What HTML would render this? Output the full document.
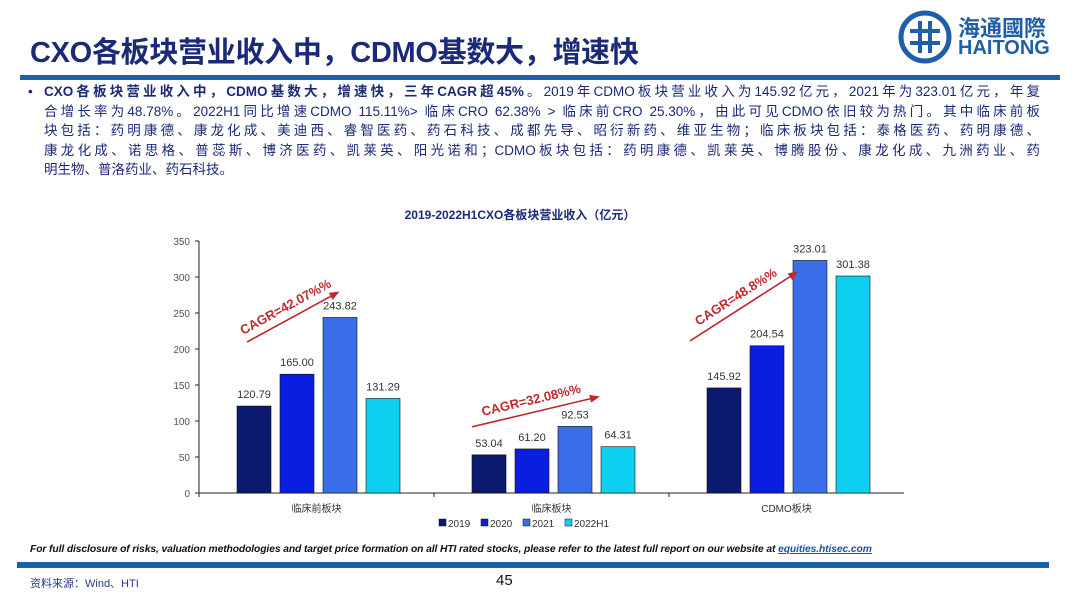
<!DOCTYPE html>
<html><head><meta charset="utf-8"><style>
body{margin:0;width:1080px;height:607px;background:#fff;position:relative;overflow:hidden;font-family:"Liberation Sans","Noto Sans CJK SC",sans-serif}
.abs{position:absolute}
.ln{text-align:justify;text-align-last:justify;white-space:nowrap;height:19.6px}
</style></head><body>
<div class="abs" style="left:30px;top:29px;font-size:29px;font-weight:bold;color:#1b2a78;letter-spacing:-0.3px">CXO各板块营业收入中，CDMO基数大，增速快</div>
<div class="abs" style="left:898px;top:9px;width:160px;height:56px">
<svg width="56" height="56" style="position:absolute;left:0;top:0"><circle cx="27" cy="28" r="24" fill="none" stroke="#1f5fa8" stroke-width="5"/><path d="M12 22h30M12 34h30M22 12v32M32 12v32" stroke="#1f5fa8" stroke-width="4" fill="none"/></svg>
<div class="abs" style="left:60px;top:2px;font-size:22px;color:#1f5fa8;font-weight:bold">海通國際</div>
<div class="abs" style="left:60px;top:28px;font-size:20px;color:#1f5fa8;font-weight:bold">HAITONG</div>
</div>
<div class="abs" style="left:20px;top:75px;width:1040px;height:5px;background:#1f5fa8"></div>
<div class="abs" style="left:28px;top:82px;width:1012px;font-size:13.5px;line-height:19.6px;color:#1b2a78">
<span style="position:absolute;left:0;top:0">•</span>
<div style="margin-left:16px">
<div class="ln"><b>CXO各板块营业收入中，CDMO基数大，增速快，三年CAGR超45%</b>。2019年CDMO板块营业收入为145.92亿元，2021年为323.01亿元，年复</div>
<div class="ln">合增长率为48.78%。2022H1同比增速CDMO 115.11%&gt; 临床CRO 62.38% &gt; 临床前CRO 25.30%，由此可见CDMO依旧较为热门。其中临床前板</div>
<div class="ln">块包括：药明康德、康龙化成、美迪西、睿智医药、药石科技、成都先导、昭衍新药、维亚生物；临床板块包括：泰格医药、药明康德、</div>
<div class="ln">康龙化成、诺思格、普蕊斯、博济医药、凯莱英、阳光诺和；CDMO板块包括：药明康德、凯莱英、博腾股份、康龙化成、九洲药业、药</div>
<div>明生物、普洛药业、药石科技。</div>
</div>
</div>
<svg class="abs" style="left:0;top:0" width="1080" height="607" id="chart"></svg>
<div class="abs" style="left:30px;top:544px;font-size:10.3px;font-style:italic;font-weight:bold;color:#111;letter-spacing:-0.1px">For full disclosure of risks, valuation methodologies and target price formation on all HTI rated stocks, please refer to the latest full report on our website at <span style="color:#1f4fa8;text-decoration:underline">equities.htisec.com</span></div>
<div class="abs" style="left:17px;top:562px;width:1032px;height:6px;background:#1f5fa8"></div>
<div class="abs" style="left:30px;top:575px;font-size:11px;color:#2a3a8a">资料来源：Wind、HTI</div>
<div class="abs" style="left:496px;top:572px;font-size:15px;color:#111">45</div>
<script>
const categories=["临床前板块","临床板块","CDMO板块"];
const seriesNames=["2019","2020","2021","2022H1"];
const s2019=[120.79,53.04,145.92];
const s2020=[165.00,61.20,204.54];
const s2021=[243.82,92.53,323.01];
const s2022H1=[131.29,64.31,301.38];
const yTicks=[0,50,100,150,200,250,300,350];
const cagrLabels=["CAGR=42.07%%","CAGR=32.08%%","CAGR=48.8%%"];
const series=[s2019,s2020,s2021,s2022H1];
const colors=["#0a1a6e","#0a1ee0","#3a6ee8","#0fcff0"];
// arrow placement offsets (styling): [startDx, startDyFrom2019Top, endDx, endDyFrom2021Top]
const arrowOffsets=[[48,-64,137,-24],[38,-28,162,-29],[21,-47,126,13]];
const NS="http://www.w3.org/2000/svg";
const svg=document.getElementById('chart');
const X0=199,GW=235,Y0=493,PY=252/350;
const y=v=>Y0-v*PY;
const gx=i=>X0+i*GW;
function el(t,a,txt){const e=document.createElementNS(NS,t);for(const k in a)e.setAttribute(k,a[k]);if(txt!=null)e.textContent=txt;svg.appendChild(e);return e;}
let t=el('text',{x:520,y:219,'text-anchor':'middle','font-size':12,'font-weight':'bold',fill:'#1b2a78'},'2019-2022H1CXO各板块营业收入（亿元）');


yTicks.forEach(v=>{
 let tl=el('text',{x:190,y:y(v)+4,'text-anchor':'end','font-size':10,fill:'#555'},v);
 
 
 el('line',{x1:195,x2:199,y1:y(v),y2:y(v),stroke:'#222'});
});
let ax=el('line',{x1:199,x2:199,y1:y(350),y2:Y0,stroke:'#222'});


let bx=el('line',{x1:199,x2:X0+3*GW,y1:Y0,y2:Y0,stroke:'#222'});


categories.forEach((c,i)=>{
 el('line',{x1:gx(i),x2:gx(i),y1:Y0,y2:Y0+4,stroke:'#222'});
 let cl=el('text',{x:gx(i)+GW/2,y:512,'text-anchor':'middle','font-size':10,fill:'#333'},c);
 
 
 series.forEach((s,j)=>{
  const bxp=gx(i)+38+j*43,v=s[i];
  let r=el('rect',{x:bxp,y:y(v),width:34,height:Y0-y(v),fill:colors[j],stroke:'#111','stroke-width':0.6});
  
  
  let vl=el('text',{x:bxp+17,y:y(v)-8,'text-anchor':'middle','font-size':11,fill:'#333'},v.toFixed(2));
  
  
 });
 const o=arrowOffsets[i];
 const ax1=gx(i)+o[0],ay1=y(s2019[i])+o[1];
 const ax2=gx(i)+o[2],ay2=y(s2021[i])+o[3];
 let ar=el('line',{x1:ax1,y1:ay1,x2:ax2,y2:ay2,stroke:'#c0282d','stroke-width':1.6});
 
 
 const ang=Math.atan2(ay2-ay1,ax2-ax1);
 const p=[[ax2+4*Math.cos(ang),ay2+4*Math.sin(ang)],[ax2-6*Math.cos(ang)-4*Math.sin(ang),ay2-6*Math.sin(ang)+4*Math.cos(ang)],[ax2-6*Math.cos(ang)+4*Math.sin(ang),ay2-6*Math.sin(ang)-4*Math.cos(ang)]];
 el('polygon',{points:p.map(q=>q.join(',')).join(' '),fill:'#c0282d'});
 const mx=(ax1+ax2)/2+8*Math.sin(ang),my=(ay1+ay2)/2-8*Math.cos(ang),deg=ang*180/Math.PI;
 let cg=el('text',{x:mx,y:my,'text-anchor':'middle','font-size':13,'font-weight':'bold',fill:'#c0282d',transform:`rotate(${deg} ${mx} ${my})`},cagrLabels[i]);
 
 
});
const lx=[439,481,523,565];
seriesNames.forEach((n,j)=>{
 el('rect',{x:lx[j],y:519,width:7,height:7,fill:colors[j],stroke:'#111','stroke-width':0.5});
 let lt=el('text',{x:lx[j]+9,y:527,'font-size':10,fill:'#333'},n);
 
 
});
</script>
</body></html>
